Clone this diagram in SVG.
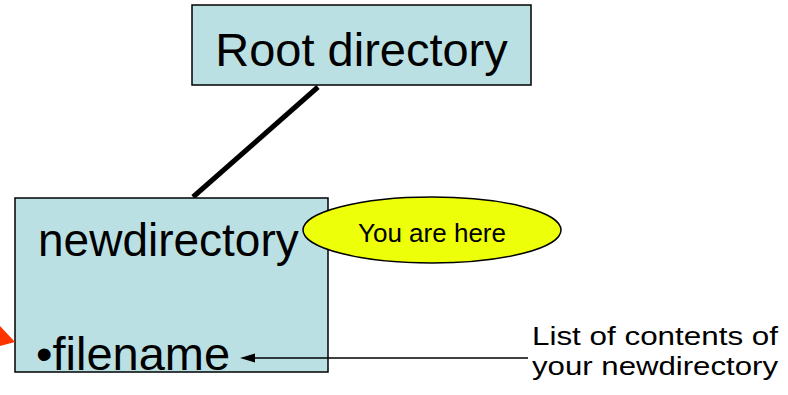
<svg xmlns="http://www.w3.org/2000/svg" width="788" height="395" viewBox="0 0 788 395">
<defs>
<style>
.box{fill:#bbe0e3;stroke:#000;stroke-width:1.5}
.t{font-family:"Liberation Sans",Arial,sans-serif;fill:#000}
</style>
</defs>
<rect width="788" height="395" fill="#fff"/>
<g id="connectors">
<line x1="318" y1="87" x2="193" y2="197" stroke="#000" stroke-width="5"/>
</g>
<g id="root">
<rect class="box" x="192" y="5" width="339" height="80"/>
<text class="t" x="361.5" y="66" font-size="47" text-anchor="middle">Root directory</text>
</g>
<g id="newdirectory">
<rect class="box" x="15" y="198" width="313" height="174"/>
<text class="t" x="38" y="256" font-size="46">newdirectory</text>
<text class="t" x="36" y="370" font-size="47">•filename</text>
</g>
<g id="youarehere">
<ellipse cx="432" cy="230" rx="129" ry="33" fill="#eeff0a" stroke="#000" stroke-width="1.5"/>
<text class="t" x="432" y="242" font-size="26" text-anchor="middle">You are here</text>
</g>
<g id="pointer">
<line x1="528" y1="358" x2="254" y2="358" stroke="#000" stroke-width="1.5"/>
<polygon points="240,358 255,353.5 255,362.5" fill="#000"/>
</g>
<g id="label">
<text class="t" font-size="26"><tspan x="532" y="345" textLength="246" lengthAdjust="spacingAndGlyphs">List of contents of</tspan><tspan x="532" y="375" textLength="246" lengthAdjust="spacingAndGlyphs">your newdirectory</tspan></text>
</g>
<g id="redarrow">
<polygon points="0,326 15,342 0,346" fill="#ff3300"/>
</g>
</svg>
